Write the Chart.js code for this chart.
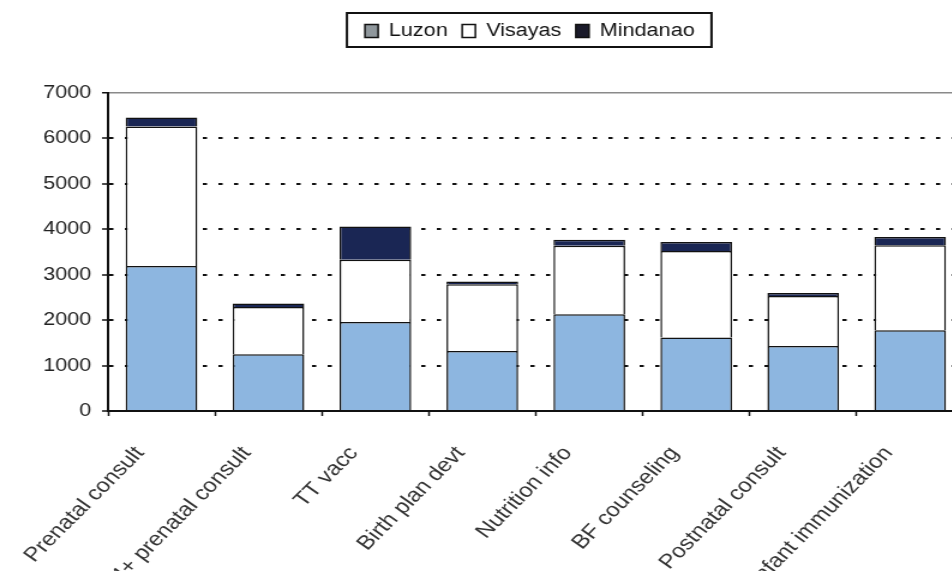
<!DOCTYPE html>
<html>
<head>
    <title>Services by island group</title>
    <style>
        body {
            margin: 0;
            background: #fff;
            overflow: hidden;
        }
        #wrap {
            position: absolute;
            left: 0;
            top: 0;
            transform: scaleX(1.2);
            transform-origin: 0 0;
        }
    </style>
</head>
<body>
    <div id="wrap"><canvas id="barChart" width="815" height="571"></canvas></div>
    <script src="https://cdn.jsdelivr.net/npm/chart.js"></script>
    <script>
        const categories = ['Prenatal consult', '4+ prenatal consult', 'TT vacc', 'Birth plan devt',
            'Nutrition info', 'BF counseling', 'Postnatal consult', 'Infant immunization'];
        const luzon = [3190, 1250, 1960, 1320, 2130, 1620, 1430, 1780];
        const visayas = [3070, 1040, 1370, 1470, 1510, 1900, 1100, 1870];
        const mindanao = [200, 75, 730, 60, 130, 200, 70, 180];
        const yTicks = [0, 1000, 2000, 3000, 4000, 5000, 6000, 7000];

        const FONT = 'Arial, "Liberation Sans", sans-serif';
        const swatches = ['#8f979c', '#ffffff', '#1a1a2a'];
        const LEGEND_SHIFT = 40;

        // draws the frame round the legend and nudges it right like the original
        const legendFrame = {
            id: 'legendFrame',
            afterUpdate(chart) {
                const lg = chart.legend;
                lg.left += LEGEND_SHIFT;
                lg.right += LEGEND_SHIFT;
                lg.legendHitBoxes.forEach(b => { b.left += LEGEND_SHIFT; });
            },
            afterDraw(chart) {
                const boxes = chart.legend.legendHitBoxes;
                const first = boxes[0];
                const last = boxes[boxes.length - 1];
                const ctx = chart.ctx;
                ctx.save();
                ctx.strokeStyle = '#111';
                ctx.lineWidth = 2;
                ctx.strokeRect(first.left - 15, first.top - 9,
                    last.left + last.width - first.left + 29, first.height + 16);
                ctx.restore();
            }
        };

        const isEdge = ctx => ctx.tick && (ctx.tick.value === 0 || ctx.tick.value === 7000);

        new Chart(document.getElementById('barChart'), {
            type: 'bar',
            data: {
                labels: categories,
                datasets: [
                    { label: 'Luzon', data: luzon, backgroundColor: '#8db6e0' },
                    { label: 'Visayas', data: visayas, backgroundColor: '#ffffff' },
                    { label: 'Mindanao', data: mindanao, backgroundColor: '#1a2654' }
                ].map(d => Object.assign(d, {
                    xAxisID: 'x',
                    borderColor: '#111',
                    borderWidth: 1.5,
                    barPercentage: 0.67,
                    categoryPercentage: 1
                }))
            },
            options: {
                responsive: false,
                animation: false,
                layout: { padding: { top: 10, right: 12, left: 0, bottom: 0 } },
                plugins: {
                    tooltip: { enabled: false },
                    legend: {
                        position: 'top',
                        labels: {
                            color: '#111',
                            font: { size: 18, family: FONT },
                            boxWidth: 11,
                            boxHeight: 13,
                            padding: 12,
                            generateLabels: chart => Chart.defaults.plugins.legend.labels
                                .generateLabels(chart)
                                .map((l, i) => Object.assign(l, { fillStyle: swatches[i], lineWidth: 1.5 }))
                        }
                    }
                },
                scales: {
                    x: {
                        stacked: true,
                        grid: {
                            drawOnChartArea: false,
                            tickLength: 5,
                            tickColor: '#111',
                            tickWidth: 1.5
                        },
                        border: { display: true, color: '#111', width: 2 },
                        ticks: {
                            autoSkip: false,
                            minRotation: 50,
                            maxRotation: 50,
                            padding: 26,
                            labelOffset: -18,
                            color: '#333',
                            font: { size: 20, family: FONT }
                        },
                        afterFit: s => { s.height = 160; }
                    },
                    xTop: {
                        type: 'linear',
                        position: 'top',
                        grid: { display: false },
                        border: { display: false },
                        ticks: { display: false },
                        afterFit: s => { s.height = 43; }
                    },
                    y: {
                        stacked: true,
                        min: 0,
                        max: 7000,
                        afterBuildTicks: s => { s.ticks = yTicks.map(v => ({ value: v })); },
                        grid: {
                            color: ctx => (ctx.tick && ctx.tick.value === 7000) ? '#8a8a8a' : '#111',
                            lineWidth: ctx => (ctx.tick && ctx.tick.value === 7000) ? 1.5 : 2,
                            tickColor: '#111',
                            tickLength: 5,
                            tickWidth: 1.5,
                            tickBorderDash: []
                        },
                        border: {
                            display: true,
                            color: '#111',
                            width: 2,
                            dash: ctx => (ctx.tick && !isEdge(ctx)) ? [3.5, 9.5] : []
                        },
                        ticks: {
                            padding: 9,
                            color: '#222',
                            font: { size: 18, family: FONT },
                            callback: v => String(v)
                        },
                        afterFit: s => { s.width = 90; }
                    }
                }
            },
            plugins: [legendFrame]
        });
    </script>
</body>
</html>
